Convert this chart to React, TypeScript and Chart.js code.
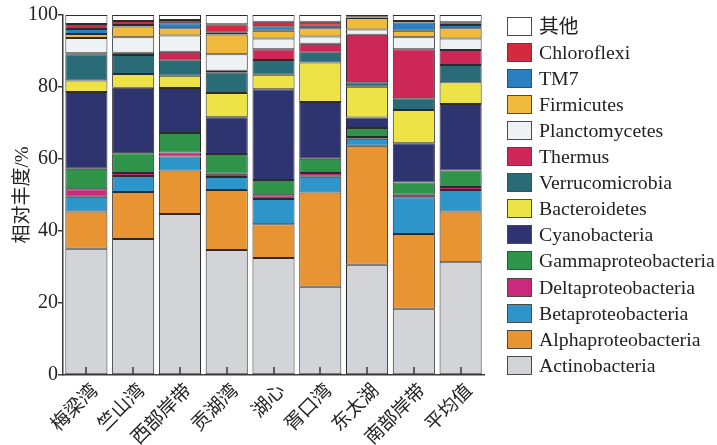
import React, { useEffect, useRef } from "react";
import { Chart, registerables } from "chart.js";

Chart.register(...registerables);

// Sampling sites (x axis)
const categories = ["梅梁湾", "竺山湾", "西部岸带", "贡湖湾", "湖心", "胥口湾", "东太湖", "南部岸带", "平均值"];

// Relative abundance (%) of each phylum / class at every site, bottom to top of the stack
const actinobacteria = [35.1, 37.8, 44.7, 34.7, 32.5, 24.5, 30.6, 18.4, 31.3];
const alphaproteobacteria = [10.3, 13.0, 12.1, 16.7, 9.4, 26.2, 33.1, 20.8, 14.1];
const betaproteobacteria = [4.1, 4.5, 3.9, 3.6, 7.0, 4.4, 1.9, 10.2, 6.0];
const deltaproteobacteria = [2.1, 0.8, 1.1, 0.9, 1.0, 1.0, 0.5, 0.7, 0.8];
const gammaproteobacteria = [5.7, 5.5, 5.4, 5.5, 4.3, 4.0, 2.5, 3.4, 4.6];
const cyanobacteria = [21.3, 18.2, 12.5, 10.2, 25.2, 15.7, 2.9, 10.9, 18.5];
const bacteroidetes = [3.2, 3.8, 3.4, 6.7, 4.0, 11.0, 8.6, 9.2, 6.0];
const verrucomicrobia = [7.3, 5.3, 4.2, 5.8, 4.1, 2.7, 1.2, 3.3, 4.8];
const thermus = [0.3, 0.6, 2.5, 0.4, 3.0, 2.5, 13.2, 13.6, 4.2];
const planctomycetes = [4.2, 4.3, 4.5, 4.6, 3.0, 2.0, 1.5, 3.3, 3.2];
const firmicutes = [1.1, 3.0, 2.0, 5.5, 2.1, 2.3, 3.2, 1.8, 2.8];
const tm7 = [1.4, 0.4, 1.4, 0.5, 1.3, 0.7, 0.1, 2.3, 0.9];
const chloroflexi = [1.4, 1.1, 0.9, 2.3, 1.2, 1.1, 0.2, 0.4, 0.8];
const others = [2.5, 1.7, 1.4, 2.6, 1.9, 1.9, 0.5, 1.7, 2.0];

// Y axis ticks
const yTicks = [0, 20, 40, 60, 80, 100];

const series = [
  { label: "Actinobacteria", data: actinobacteria, color: "#d2d4d7" },
  { label: "Alphaproteobacteria", data: alphaproteobacteria, color: "#e89433" },
  { label: "Betaproteobacteria", data: betaproteobacteria, color: "#2e95cb" },
  { label: "Deltaproteobacteria", data: deltaproteobacteria, color: "#c92a7c" },
  { label: "Gammaproteobacteria", data: gammaproteobacteria, color: "#2f944a" },
  { label: "Cyanobacteria", data: cyanobacteria, color: "#2d3470" },
  { label: "Bacteroidetes", data: bacteroidetes, color: "#eee346" },
  { label: "Verrucomicrobia", data: verrucomicrobia, color: "#2a6b78" },
  { label: "Thermus", data: thermus, color: "#cc2756" },
  { label: "Planctomycetes", data: planctomycetes, color: "#eef2f5" },
  { label: "Firmicutes", data: firmicutes, color: "#f0bb3c" },
  { label: "TM7", data: tm7, color: "#2a7fc0" },
  { label: "Chloroflexi", data: chloroflexi, color: "#d42a40" },
  { label: "其他", data: others, color: "#ffffff" },
];

const FONT = "'Liberation Serif', 'Times New Roman', 'Noto Sans CJK SC', serif";
const INK = "#2b2b2b";

// Short tick marks pointing up into the plot at each category centre
const innerTicks = {
  id: "innerTicks",
  afterDatasetsDraw(chart: any) {
    const { ctx, chartArea } = chart;
    const xScale = chart.scales.x;
    ctx.save();
    ctx.strokeStyle = "#3a3a3a";
    ctx.lineWidth = 1.5;
    categories.forEach((_, i) => {
      const px = Math.round(xScale.getPixelForValue(i));
      ctx.beginPath();
      ctx.moveTo(px, chartArea.bottom);
      ctx.lineTo(px, chartArea.bottom - 8);
      ctx.stroke();
    });
    ctx.restore();
  },
};

export default function App() {
  const canvasRef = useRef<HTMLCanvasElement | null>(null);

  useEffect(() => {
    const canvas = canvasRef.current;
    if (!canvas) return;
    const chart = new Chart(canvas, {
      type: "bar",
      data: {
        labels: categories,
        datasets: series.map((s) => ({
          label: s.label,
          data: s.data,
          backgroundColor: s.color,
          borderColor: INK,
          borderWidth: 1,
          borderSkipped: false,
          barPercentage: 0.9,
          categoryPercentage: 1,
        })),
      },
      options: {
        responsive: false,
        animation: false,
        layout: { padding: { top: 15, right: 233, left: 0, bottom: 0 } },
        plugins: { legend: { display: false }, tooltip: { enabled: false } },
        scales: {
          x: {
            stacked: true,
            offset: true,
            grid: { display: false, drawOnChartArea: false, drawTicks: false },
            border: { display: true, color: "#3a3a3a", width: 1.5 },
            ticks: {
              font: { family: FONT, size: 19 },
              color: "#222",
              minRotation: 45,
              maxRotation: 45,
              autoSkip: false,
              padding: 5,
              labelOffset: 9,
            },
            afterFit: (s: any) => {
              s.height = 70;
            },
          },
          y: {
            stacked: true,
            min: 0,
            max: 100,
            afterBuildTicks: (s: any) => {
              s.ticks = yTicks.map((v) => ({ value: v }));
            },
            ticks: {
              font: { family: FONT, size: 20 },
              color: "#222",
              padding: 0,
            },
            grid: { drawOnChartArea: false, drawTicks: true, tickLength: 5, color: "#3a3a3a", lineWidth: 1.5 },
            border: { display: true, color: "#3a3a3a", width: 1.5 },
            title: {
              display: true,
              text: "相对丰度/%",
              font: { family: FONT, size: 19 },
              color: "#222",
              padding: { top: 12, bottom: 0 },
            },
            afterFit: (s: any) => {
              s.width = 63;
            },
          },
        },
      },
      plugins: [innerTicks],
    });
    return () => chart.destroy();
  }, []);

  const legendItems = [...series].reverse();

  return (
    <div style={{ position: "absolute", left: 0, top: 0, width: 717, height: 445, background: "#fff" }}>
      <canvas ref={canvasRef} width={717} height={445} style={{ display: "block" }} />
      {legendItems.map((s, i) => (
        <div
          key={s.label}
          style={{ position: "absolute", left: 507, top: 16.7 + i * 26.08, height: 19, display: "flex", alignItems: "center" }}
        >
          <div
            style={{
              width: 25,
              height: 19,
              boxSizing: "border-box",
              border: "1px solid #4a4a4a",
              background: s.color,
            }}
          />
          <span
            style={{
              marginLeft: 7,
              fontFamily: FONT,
              fontSize: 19.8,
              lineHeight: "19px",
              color: "#222",
              whiteSpace: "nowrap",
            }}
          >
            {s.label}
          </span>
        </div>
      ))}
    </div>
  );
}
